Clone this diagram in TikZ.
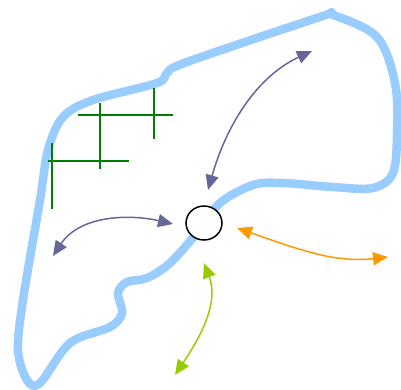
\documentclass[tikz,border=0pt]{standalone}
\usetikzlibrary{arrows.meta,shapes.geometric}
\definecolor{riverblue}{RGB}{153,204,255}
\definecolor{gridgreen}{RGB}{0,128,0}
\definecolor{flowpurple}{RGB}{102,102,153}
\definecolor{floworange}{RGB}{255,153,0}
\definecolor{flowlime}{RGB}{153,204,0}
\begin{document}
\begin{tikzpicture}[x=1pt,y=-1pt,
    flow/.style={{Triangle[length=15pt,width=13pt]}-{Triangle[length=15pt,width=13pt]},line width=1.5pt}]
\useasboundingbox (0,0) rectangle (401,389);

% outline
\draw[riverblue,line width=8.5pt,line join=round] plot[smooth cycle,tension=0.55] coordinates {
    (40,383) (70,343) (110,327) (122,313) (118,293) (127,282) (147,278)
    (170,263) (197,233) (220,203) (253,185) (283,183) (333,187) (373,188)
    (393,173) (397,133) (395,83) (377,37) (333,15) (320,17) (187,62)
    (167,73) (157,83) (93,100) (63,117) (48,150) (40,200) (23,300)
    (18,350) (27,380)};

% grid
\foreach \xa/\xb/\y in {78/173/115, 48/129/161}
    \draw[gridgreen,line width=2pt] (\xa,\y) -- (\xb,\y);
\foreach \x/\ya/\yb in {100/103/169, 154/88/139, 52/143/209}
    \draw[gridgreen,line width=2pt] (\x,\ya) -- (\x,\yb);

\node[ellipse,draw,fill=white,line width=1.5pt,minimum width=36pt,minimum height=34pt,inner sep=0pt] (well) at (204,223) {};

\coordinate (nA) at (208,190);
\coordinate (nB) at (312,51);
\coordinate (wA) at (173,224);
\coordinate (wB) at (53,256);
\coordinate (eA) at (237,228);
\coordinate (eB) at (388,257);
\coordinate (sA) at (204,263);
\coordinate (sB) at (175,375);

\draw[flow,flowpurple] (nA) .. controls (228,120) and (260,75) .. (nB);
\draw[flow,flowpurple] (wA) .. controls (130,214) and (80,215) .. (wB);
\draw[flow,floworange] (eA) .. controls (300,250) and (335,263) .. (eB);
\draw[flow,flowlime] (sA) .. controls (218,300) and (205,330) .. (sB);
\end{tikzpicture}
\end{document}
